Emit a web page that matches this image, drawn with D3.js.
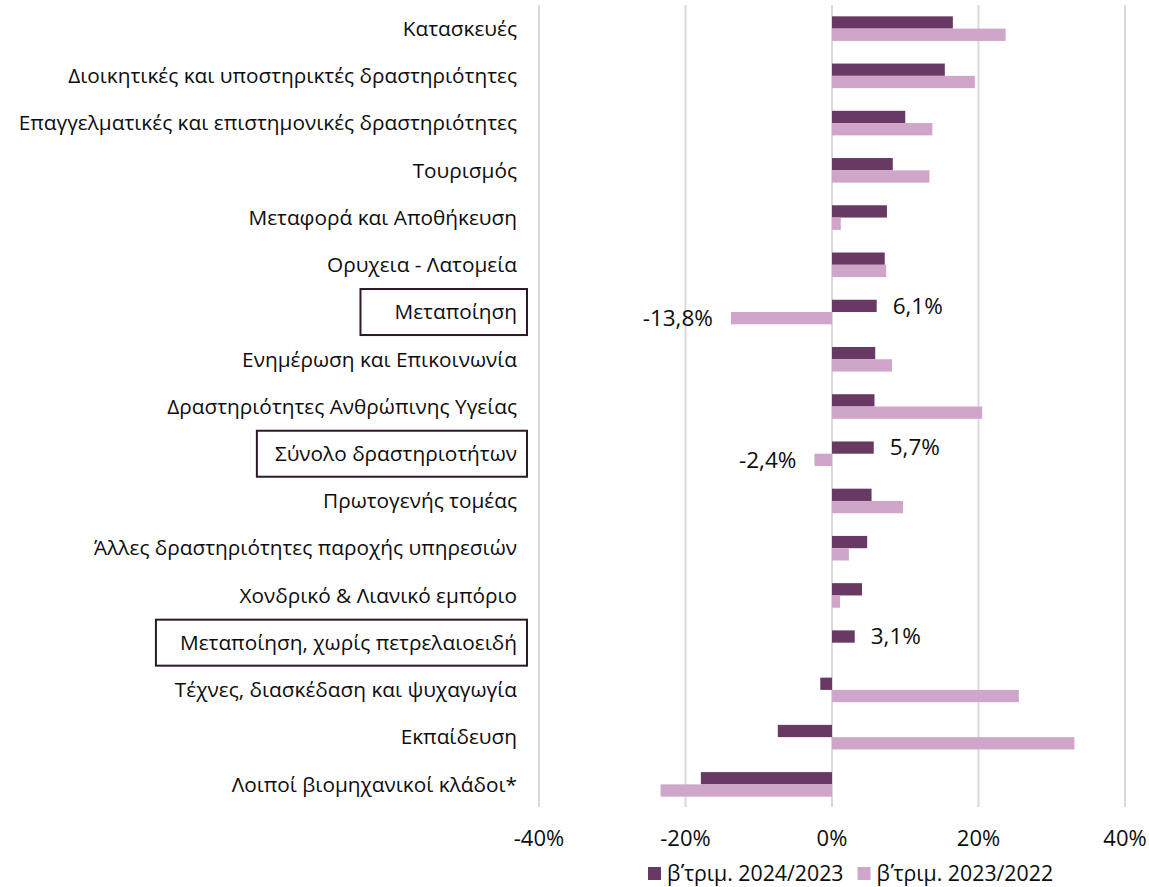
<!DOCTYPE html>
<html>
<head>
<meta charset="utf-8">
<script src="https://cdn.jsdelivr.net/npm/d3@7"></script>
<style>
  body { margin: 0; background: #fff; }
  svg { display: block; font-family: "Open Sans", "Noto Sans", sans-serif; }
</style>
</head>
<body>
<svg id="chart" width="1149" height="887"></svg>
<script>
// κλάδοι (από πάνω προς τα κάτω)
const categories = [
  "Κατασκευές",
  "Διοικητικές και υποστηρικτές δραστηριότητες",
  "Επαγγελματικές και επιστημονικές δραστηριότητες",
  "Τουρισμός",
  "Μεταφορά και Αποθήκευση",
  "Ορυχεια - Λατομεία",
  "Μεταποίηση",
  "Ενημέρωση και Επικοινωνία",
  "Δραστηριότητες Ανθρώπινης Υγείας",
  "Σύνολο δραστηριοτήτων",
  "Πρωτογενής τομέας",
  "Άλλες δραστηριότητες παροχής υπηρεσιών",
  "Χονδρικό & Λιανικό εμπόριο",
  "Μεταποίηση, χωρίς πετρελαιοειδή",
  "Τέχνες, διασκέδαση και ψυχαγωγία",
  "Εκπαίδευση",
  "Λοιποί βιομηχανικοί κλάδοι*"
];

const seriesNames = ["β\u0374τριμ. 2024/2023", "β\u0374τριμ. 2023/2022"];

// μεταβολή % β΄τριμ. 2024/2023
const values2024 = [16.5, 15.4, 10.0, 8.3, 7.5, 7.2, 6.1, 5.9, 5.8, 5.7, 5.4, 4.8, 4.1, 3.1, -1.6, -7.4, -17.9];
// μεταβολή % β΄τριμ. 2023/2022
const values2023 = [23.7, 19.5, 13.7, 13.3, 1.2, 7.4, -13.8, 8.2, 20.5, -2.4, 9.7, 2.3, 1.1, null, 25.5, 33.1, -23.4];

const xTicks = [-40, -20, 0, 20, 40];
// κλάδοι με πλαίσιο και ετικέτες τιμών
const highlighted = ["Μεταποίηση", "Σύνολο δραστηριοτήτων", "Μεταποίηση, χωρίς πετρελαιοειδή"];

const colors = ["#673963", "#cfa5c9"];

const svg = d3.select("#chart");

const x = d3.scaleLinear().domain([-40, 40]).range([539, 1125]);
const y = d3.scaleBand().domain(categories).range([5, 808])
  .paddingInner(0.48).paddingOuter(0.24);
const ySub = d3.scaleBand().domain([0, 1]).range([0, y.bandwidth()]);

// γραμμές πλέγματος
svg.append("g")
  .selectAll("line")
  .data(xTicks)
  .join("line")
  .attr("x1", d => x(d)).attr("x2", d => x(d))
  .attr("y1", 5).attr("y2", 807)
  .attr("stroke", "#d9d9d9")
  .attr("stroke-width", 2);

// ετικέτες άξονα x
svg.append("g")
  .selectAll("text")
  .data(xTicks)
  .join("text")
  .attr("x", d => x(d))
  .attr("y", 838)
  .attr("dy", "0.35em")
  .attr("text-anchor", "middle")
  .attr("font-size", 22)
  .attr("fill", "#0d0d0d")
  .text(d => d + "%");

// ράβδοι
const rows = categories.map((c, i) => ({ cat: c, vals: [values2024[i], values2023[i]] }));

const groups = svg.append("g")
  .selectAll("g")
  .data(rows)
  .join("g")
  .attr("transform", d => `translate(0,${y(d.cat)})`);

groups.selectAll("rect")
  .data(d => d.vals.map((v, s) => ({ v, s })).filter(e => e.v !== null))
  .join("rect")
  .attr("x", d => x(Math.min(0, d.v)))
  .attr("width", d => Math.abs(x(d.v) - x(0)))
  .attr("y", d => ySub(d.s))
  .attr("height", ySub.bandwidth())
  .attr("fill", d => colors[d.s]);

// ετικέτες τιμών για τους επιλεγμένους κλάδους
const fmt = v => d3.format(".1f")(v).replace(".", ",").replace("−", "-") + "%";
groups.filter(d => highlighted.includes(d.cat))
  .selectAll("text.val")
  .data(d => d.vals.map((v, s) => ({ v, s })).filter(e => e.v !== null))
  .join("text")
  .attr("class", "val")
  .attr("x", d => d.v >= 0 ? x(d.v) + 16 : x(d.v) - 18)
  .attr("y", d => ySub(d.s) + ySub.bandwidth() / 2)
  .attr("dy", "0.35em")
  .attr("text-anchor", d => d.v >= 0 ? "start" : "end")
  .attr("font-size", 22.5)
  .attr("fill", "#0d0d0d")
  .text(d => fmt(d.v));

// ετικέτες κατηγοριών
const labels = svg.append("g")
  .selectAll("text")
  .data(categories)
  .join("text")
  .attr("x", 517)
  .attr("y", d => y(d) + y.bandwidth() / 2)
  .attr("dy", "0.35em")
  .attr("text-anchor", "end")
  .attr("font-size", 20.8)
  .attr("fill", "#0d0d0d")
  .text(d => d);

// πλαίσια γύρω από τους επιλεγμένους κλάδους (χειροποίητα, άνισο αριστερό περιθώριο)
const boxPadLeft = [34, 18, 24];
labels.filter(d => highlighted.includes(d)).each(function(d) {
  const b = this.getBBox();
  const cy = y(d) + y.bandwidth() / 2;
  const pl = boxPadLeft[highlighted.indexOf(d)];
  svg.append("rect")
    .attr("x", b.x - pl)
    .attr("y", cy - 23)
    .attr("width", 527 - (b.x - pl))
    .attr("height", 46)
    .attr("fill", "none")
    .attr("stroke", "#2b1a29")
    .attr("stroke-width", 2);
});

// υπόμνημα
const legend = svg.append("g").attr("transform", "translate(648,874)");
let lx = 0;
seriesNames.forEach((name, i) => {
  legend.append("rect")
    .attr("x", lx).attr("y", -7)
    .attr("width", 13).attr("height", 13)
    .attr("fill", colors[i]);
  const t = legend.append("text")
    .attr("x", lx + 19)
    .attr("dy", "0.35em")
    .attr("font-size", 21.3)
    .attr("fill", "#0d0d0d")
    .text(name);
  lx += 19 + t.node().getComputedTextLength() + 14;
});
</script>
</body>
</html>
